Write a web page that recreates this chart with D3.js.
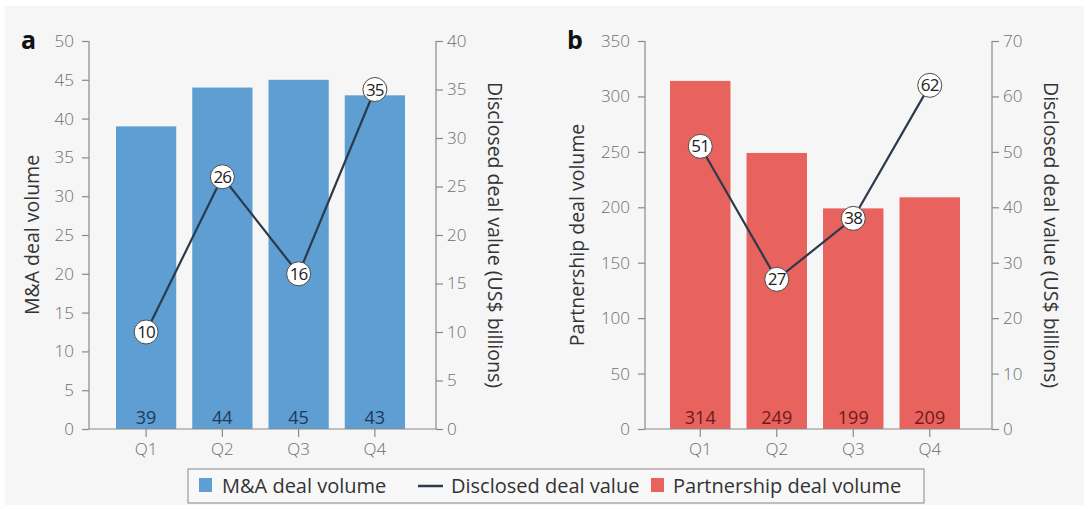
<!DOCTYPE html>
<html>
<head>
<meta charset="utf-8">
<script src="https://cdn.jsdelivr.net/npm/d3@7"></script>
<style>
  html, body { margin: 0; padding: 0; background: #ffffff; }
  svg { display: block; }
  text { font-family: "Open Sans", "DejaVu Sans", sans-serif; }
</style>
</head>
<body>
<svg id="chart" width="1089" height="509"></svg>
<script>
// ---- Data ----
const quarters = ["Q1", "Q2", "Q3", "Q4"];
const maVolume = [39, 44, 45, 43];
const maValue = [10, 26, 16, 35];
const partnershipVolume = [314, 249, 199, 209];
const partnershipValue = [51, 27, 38, 62];

const maLeftTicks = [0, 5, 10, 15, 20, 25, 30, 35, 40, 45, 50];
const maRightTicks = [0, 5, 10, 15, 20, 25, 30, 35, 40];
const pLeftTicks = [0, 50, 100, 150, 200, 250, 300, 350];
const pRightTicks = [0, 10, 20, 30, 40, 50, 60, 70];

const legendItems = ["M&A deal volume", "Disclosed deal value", "Partnership deal volume"];

// ---- Styles ----
const BLUE = "#5e9ed3";
const RED = "#e8625e";
const LINE = "#2c3a4c";
const AXIS = "#8a8a8a";
const TICKTXT = "#6e6e6e";

const svg = d3.select("#chart");
svg.append("rect").attr("x", 5).attr("y", 6).attr("width", 1079).attr("height", 499).attr("fill", "#f6f6f6");

const yTop = 41, yBot = 429;

function panel(cfg) {
  const g = svg.append("g");
  const x = d3.scaleBand().domain(quarters).range(cfg.band).paddingInner(0.21).paddingOuter(0.105);
  const yL = d3.scaleLinear().domain([0, cfg.leftMax]).range([yBot, yTop]);
  const yR = d3.scaleLinear().domain([0, cfg.rightMax]).range([yBot, yTop]);

  // bars
  g.selectAll("rect.bar").data(cfg.volume).join("rect")
    .attr("x", (d, i) => x(quarters[i]))
    .attr("width", x.bandwidth())
    .attr("y", d => yL(d))
    .attr("height", d => yBot - yL(d))
    .attr("fill", cfg.color);

  // bar value labels
  g.selectAll("text.bv").data(cfg.volume).join("text")
    .attr("x", (d, i) => x(quarters[i]) + x.bandwidth() / 2)
    .attr("y", yBot - 5)
    .attr("text-anchor", "middle")
    .attr("font-size", 18)
    .attr("fill", cfg.labelColor)
    .text(d => d);

  // left axis
  const la = g.append("g").attr("transform", `translate(${cfg.leftX},0)`)
    .call(d3.axisLeft(yL).tickValues(cfg.leftTicks).tickSize(7).tickPadding(8));
  // right axis
  const ra = g.append("g").attr("transform", `translate(${cfg.rightX},0)`)
    .call(d3.axisRight(yR).tickValues(cfg.rightTicks).tickSize(7).tickPadding(4));
  // bottom axis
  const ba = g.append("g").attr("transform", `translate(0,${yBot})`)
    .call(d3.axisBottom(x).tickSize(8).tickPadding(6));
  ba.select(".domain").remove();
  g.append("line").attr("x1", cfg.leftX).attr("x2", cfg.rightX).attr("y1", yBot).attr("y2", yBot)
    .attr("stroke", AXIS).attr("stroke-width", 1.2);

  [la, ra, ba].forEach(a => {
    a.selectAll(".domain").attr("stroke", AXIS).attr("stroke-width", 1.2);
    a.selectAll(".tick line").attr("stroke", AXIS).attr("stroke-width", 1.2);
    a.selectAll(".tick text").attr("fill", TICKTXT).attr("font-size", 17)
      .attr("font-family", "Open Sans, sans-serif").attr("font-weight", 300);
  });
  la.select(".domain").attr("d", `M0,${yTop}V${yBot}`);
  ra.select(".domain").attr("d", `M0,${yTop}V${yBot}`);

  // line
  const pts = cfg.value.map((v, i) => [x(quarters[i]) + x.bandwidth() / 2, yR(v)]);
  g.append("path").attr("d", d3.line()(pts)).attr("fill", "none")
    .attr("stroke", LINE).attr("stroke-width", 2.2);
  const c = g.selectAll("g.pt").data(cfg.value).join("g")
    .attr("transform", (d, i) => `translate(${pts[i][0]},${pts[i][1]})`);
  c.append("circle").attr("r", 12).attr("fill", "#ffffff").attr("stroke", "#4a4a4a").attr("stroke-width", 1);
  c.append("text").attr("text-anchor", "middle").attr("dy", "0.36em")
    .attr("font-size", 17).attr("fill", "#222").attr("letter-spacing", "-0.8")
    .text(d => d);

  // panel letter
  g.append("text").attr("x", cfg.letterX).attr("y", 49).attr("font-size", 25)
    .attr("font-weight", "bold").attr("fill", "#111").attr("font-family", "Liberation Sans, Arial, sans-serif")
    .text(cfg.letter);

  // axis titles
  g.append("text").attr("transform", `translate(${cfg.leftTitleX},235) rotate(-90)`)
    .attr("text-anchor", "middle").attr("dominant-baseline", "central")
    .attr("font-size", 19.5).attr("fill", "#333").text(cfg.leftTitle);
  g.append("text").attr("transform", `translate(${cfg.rightTitleX},235) rotate(90)`)
    .attr("text-anchor", "middle").attr("dominant-baseline", "central")
    .attr("font-size", 19.5).attr("fill", "#333").text("Disclosed deal value (US$ billions)");
}

panel({
  band: [108, 413], leftX: 89, rightX: 436, leftMax: 50, rightMax: 40,
  leftTicks: maLeftTicks, rightTicks: maRightTicks,
  volume: maVolume, value: maValue, color: BLUE, labelColor: "#1e3a5a",
  letter: "a", letterX: 21, leftTitle: "M&A deal volume", leftTitleX: 31, rightTitleX: 495
});
panel({
  band: [662, 968], leftX: 645, rightX: 992, leftMax: 350, rightMax: 70,
  leftTicks: pLeftTicks, rightTicks: pRightTicks,
  volume: partnershipVolume, value: partnershipValue, color: RED, labelColor: "#6e1a1a",
  letter: "b", letterX: 567, leftTitle: "Partnership deal volume", leftTitleX: 576, rightTitleX: 1051
});

// legend
const lg = svg.append("g");
lg.append("rect").attr("x", 188).attr("y", 469).attr("width", 736).attr("height", 34)
  .attr("fill", "#f8f8f8").attr("stroke", "#9a9a9a").attr("stroke-width", 1.2);
const lf = { size: 20, fam: "Roboto, sans-serif" };
lg.append("rect").attr("x", 199).attr("y", 478).attr("width", 13).attr("height", 14).attr("fill", BLUE);
lg.append("text").attr("x", 222).attr("y", 493).attr("font-size", lf.size).attr("font-family", lf.fam).attr("fill", "#333").text(legendItems[0]);
lg.append("line").attr("x1", 418).attr("x2", 443).attr("y1", 486).attr("y2", 486).attr("stroke", LINE).attr("stroke-width", 2.5);
lg.append("text").attr("x", 451).attr("y", 493).attr("font-size", lf.size).attr("font-family", lf.fam).attr("fill", "#333").text(legendItems[1]);
lg.append("rect").attr("x", 651).attr("y", 478).attr("width", 13).attr("height", 14).attr("fill", RED);
lg.append("text").attr("x", 673).attr("y", 493).attr("font-size", lf.size).attr("font-family", lf.fam).attr("fill", "#333").text(legendItems[2]);
</script>
</body>
</html>
